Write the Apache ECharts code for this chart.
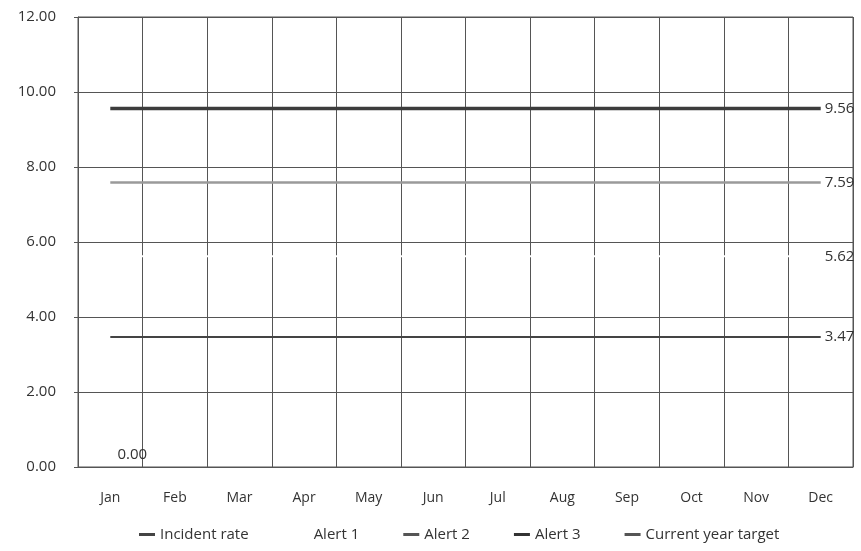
<!DOCTYPE html>
<html>
<head>
<meta charset="utf-8">
<script src="https://cdn.jsdelivr.net/npm/echarts@6/dist/echarts.min.js"></script>
<style>
  html, body { margin: 0; padding: 0; background: #fff; }
  #chart { width: 861px; height: 551px; }
</style>
</head>
<body>
<div id="chart"></div>
<script>
// Monthly incident rate against alert thresholds and the yearly target
const months = ['Jan', 'Feb', 'Mar', 'Apr', 'May', 'Jun', 'Jul', 'Aug', 'Sep', 'Oct', 'Nov', 'Dec'];
const incidentRate = [0.00, null, null, null, null, null, null, null, null, null, null, null];
const alert1 = [5.62, 5.62, 5.62, 5.62, 5.62, 5.62, 5.62, 5.62, 5.62, 5.62, 5.62, 5.62];
const alert2 = [7.59, 7.59, 7.59, 7.59, 7.59, 7.59, 7.59, 7.59, 7.59, 7.59, 7.59, 7.59];
const alert3 = [9.56, 9.56, 9.56, 9.56, 9.56, 9.56, 9.56, 9.56, 9.56, 9.56, 9.56, 9.56];
const currentYearTarget = [3.47, 3.47, 3.47, 3.47, 3.47, 3.47, 3.47, 3.47, 3.47, 3.47, 3.47, 3.47];

const FONT = '"Open Sans", Lato, sans-serif';
const TEXT = '#333';

function endLabel() {
  return {
    show: true,
    color: TEXT,
    fontFamily: FONT,
    fontSize: 15,
    distance: 4,
    formatter: p => Number(p.value).toFixed(2)
  };
}

function lineSeries(name, data, color, width) {
  return {
    name: name,
    type: 'line',
    data: data,
    symbol: 'none',
    silent: true,
    lineStyle: { color: color, width: width },
    itemStyle: { color: color },
    endLabel: endLabel()
  };
}

const chart = echarts.init(document.getElementById('chart'), null, { renderer: 'canvas' });
chart.setOption({
  animation: false,
  backgroundColor: '#fff',
  grid: { left: 78, right: 8, top: 17, bottom: 84, show: true, borderColor: '#555', borderWidth: 1 },
  xAxis: {
    type: 'category',
    data: months,
    boundaryGap: true,
    axisLine: { show: true, lineStyle: { color: '#555' } },
    axisTick: { show: false },
    splitLine: { show: true, lineStyle: { color: '#555', width: 1 } },
    axisLabel: { color: TEXT, fontFamily: FONT, fontSize: 14, margin: 24 }
  },
  yAxis: {
    type: 'value',
    min: 0,
    max: 12,
    interval: 2,
    axisLine: { show: true, lineStyle: { color: '#555' } },
    axisTick: { show: true, length: 4, lineStyle: { color: '#555' } },
    splitLine: { show: true, lineStyle: { color: '#555', width: 1 } },
    axisLabel: { color: TEXT, fontFamily: FONT, fontSize: 15, margin: 22, formatter: v => v.toFixed(2) }
  },
  legend: {
    bottom: 4,
    left: 134,
    itemWidth: 16,
    itemHeight: 3,
    itemGap: 44,
    icon: 'rect',
    textStyle: { color: TEXT, fontFamily: FONT, fontSize: 15 },
    data: [
      { name: 'Incident rate', itemStyle: { color: '#444' } },
      { name: 'Alert 1', itemStyle: { color: '#fff' } },
      { name: 'Alert 2', itemStyle: { color: '#555' } },
      { name: 'Alert 3', itemStyle: { color: '#333' } },
      { name: 'Current year target', itemStyle: { color: '#555' } }
    ]
  },
  series: [
    {
      name: 'Incident rate',
      type: 'line',
      data: incidentRate,
      symbol: 'circle',
      symbolSize: 0.1,
      silent: true,
      lineStyle: { color: '#444', width: 2 },
      itemStyle: { color: '#444' },
      label: {
        show: true,
        position: 'top',
        offset: [22, 0],
        color: TEXT,
        fontFamily: FONT,
        fontSize: 15,
        formatter: p => p.value == null ? '' : Number(p.value).toFixed(2)
      }
    },
    lineSeries('Alert 1', alert1, '#fff', 2),
    lineSeries('Alert 2', alert2, '#9a9a9a', 2.5),
    lineSeries('Alert 3', alert3, '#3c3c3c', 3.5),
    lineSeries('Current year target', currentYearTarget, '#444', 2)
  ]
});
</script>
</body>
</html>
